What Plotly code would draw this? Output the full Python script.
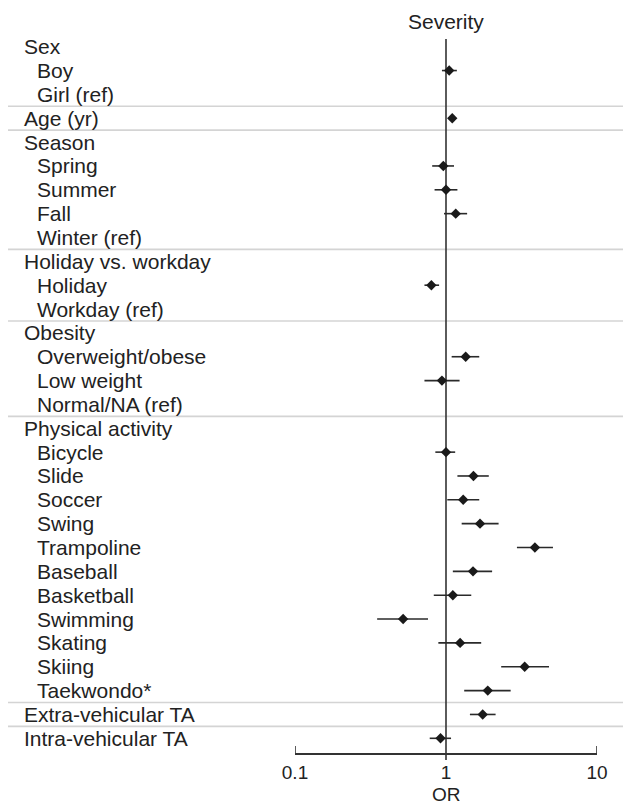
import plotly.graph_objects as go

# Row labels, indentation level (0 = group header, 1 = category)
labels = [
    "Sex", "Boy", "Girl (ref)", "Age (yr)", "Season", "Spring", "Summer", "Fall",
    "Winter (ref)", "Holiday vs. workday", "Holiday", "Workday (ref)", "Obesity",
    "Overweight/obese", "Low weight", "Normal/NA (ref)", "Physical activity",
    "Bicycle", "Slide", "Soccer", "Swing", "Trampoline", "Baseball", "Basketball",
    "Swimming", "Skating", "Skiing", "Taekwondo*", "Extra-vehicular TA",
    "Intra-vehicular TA",
]
levels = [0, 1, 1, 0, 0, 1, 1, 1, 1, 0, 1, 1, 0, 1, 1, 1, 0,
          1, 1, 1, 1, 1, 1, 1, 1, 1, 1, 1, 0, 0]

# Odds ratios with 95% confidence limits (None = header / reference row)
odds = [None, 1.05, None, 1.10, None, 0.96, 1.00, 1.16, None, None, 0.80, None, None,
        1.35, 0.94, None, None, 1.00, 1.52, 1.30, 1.68, 3.88, 1.51, 1.11,
        0.52, 1.24, 3.32, 1.89, 1.75, 0.92]
lower = [None, 0.94, None, 1.08, None, 0.81, 0.84, 0.97, None, None, 0.72, None, None,
         1.09, 0.72, None, None, 0.85, 1.19, 1.02, 1.27, 2.95, 1.11, 0.83,
         0.35, 0.89, 2.32, 1.32, 1.44, 0.78]
upper = [None, 1.18, None, 1.12, None, 1.13, 1.19, 1.38, None, None, 0.90, None, None,
         1.66, 1.23, None, None, 1.15, 1.92, 1.66, 2.23, 5.11, 2.02, 1.47,
         0.76, 1.71, 4.81, 2.68, 2.13, 1.08]

# Group separators drawn below these rows
separators_after = [2, 3, 8, 11, 15, 27, 28]

tick_vals = [0.1, 1, 10]
tick_text = ["0.1", "1", "10"]

FONT = "Liberation Sans, Arial, Helvetica, sans-serif"
TXT = "#222222"
W, H = 623, 805
ML, MR, MT, MB = 295, 26, 39, 52
PW = W - ML - MR
PH = H - MT - MB

rows = [i for i, v in enumerate(odds) if v is not None]
xs = [odds[i] for i in rows]
ys = [-i for i in rows]
ep = [upper[i] - odds[i] for i in rows]
em = [odds[i] - lower[i] for i in rows]

fig = go.Figure()
fig.add_trace(go.Scatter(
    x=xs, y=ys, mode="markers",
    marker=dict(symbol="diamond", size=8, color="#1a1a1a", line=dict(width=0)),
    error_x=dict(type="data", array=ep, arrayminus=em, symmetric=False,
                 color="#2a2a2a", thickness=1.6, width=0),
    showlegend=False, hoverinfo="x", cliponaxis=False,
))

shapes = []
for r in separators_after:
    shapes.append(dict(type="line", xref="paper", yref="y",
                       x0=(8 - ML) / PW, x1=(W - ML) / PW,
                       y0=-(r + 0.5), y1=-(r + 0.5),
                       line=dict(color="#d4d4d4", width=1.6), layer="below"))
# Reference line at OR = 1 (runs slightly past the axis as its tick)
shapes.append(dict(type="line", xref="x", yref="paper", x0=1, x1=1, y0=-7 / PH, y1=1,
                   line=dict(color="#333333", width=1.6), layer="below"))
# Upward tick marks at the axis ends
for tv in (tick_vals[0], tick_vals[-1]):
    shapes.append(dict(type="line", xref="x", yref="paper", x0=tv, x1=tv,
                       y0=0, y1=7 / PH, line=dict(color="#333333", width=1.6)))

annotations = []
for i, (lab, lv) in enumerate(zip(labels, levels)):
    px = 22 if lv == 0 else 35
    annotations.append(dict(x=(px - ML) / PW, xref="paper", y=-i, yref="y",
                            text=lab, showarrow=False, xanchor="left", yanchor="middle",
                            font=dict(family=FONT, size=21, color=TXT)))
annotations.append(dict(x=0, xref="x", y=1, yref="paper", yshift=18,
                        text="Severity", showarrow=False, xanchor="center", yanchor="middle",
                        font=dict(family=FONT, size=21, color=TXT)))
# Axis title sits flush with the bottom edge
annotations.append(dict(x=0, xref="x", y=0, yref="paper", yshift=-MB - 1,
                        text="OR", showarrow=False, xanchor="center", yanchor="bottom",
                        borderpad=0, font=dict(family=FONT, size=19, color=TXT)))

fig.update_layout(
    width=W, height=H,
    margin=dict(l=ML, r=MR, t=MT, b=MB, pad=0, autoexpand=False),
    paper_bgcolor="white", plot_bgcolor="white",
    font=dict(family=FONT, size=21, color=TXT),
    shapes=shapes, annotations=annotations,
    xaxis=dict(type="log", range=[-1, 1], tickvals=tick_vals, ticktext=tick_text,
               ticks="", ticklabelstandoff=1, automargin=False,
               showline=True, linecolor="#333333", linewidth=1.6,
               showgrid=False, zeroline=False,
               tickfont=dict(family=FONT, size=19, color=TXT)),
    yaxis=dict(range=[-29.616, 0.323], showgrid=False, zeroline=False, automargin=False,
               showticklabels=False, showline=False, ticks=""),
)

fig.write_html("out.html")
